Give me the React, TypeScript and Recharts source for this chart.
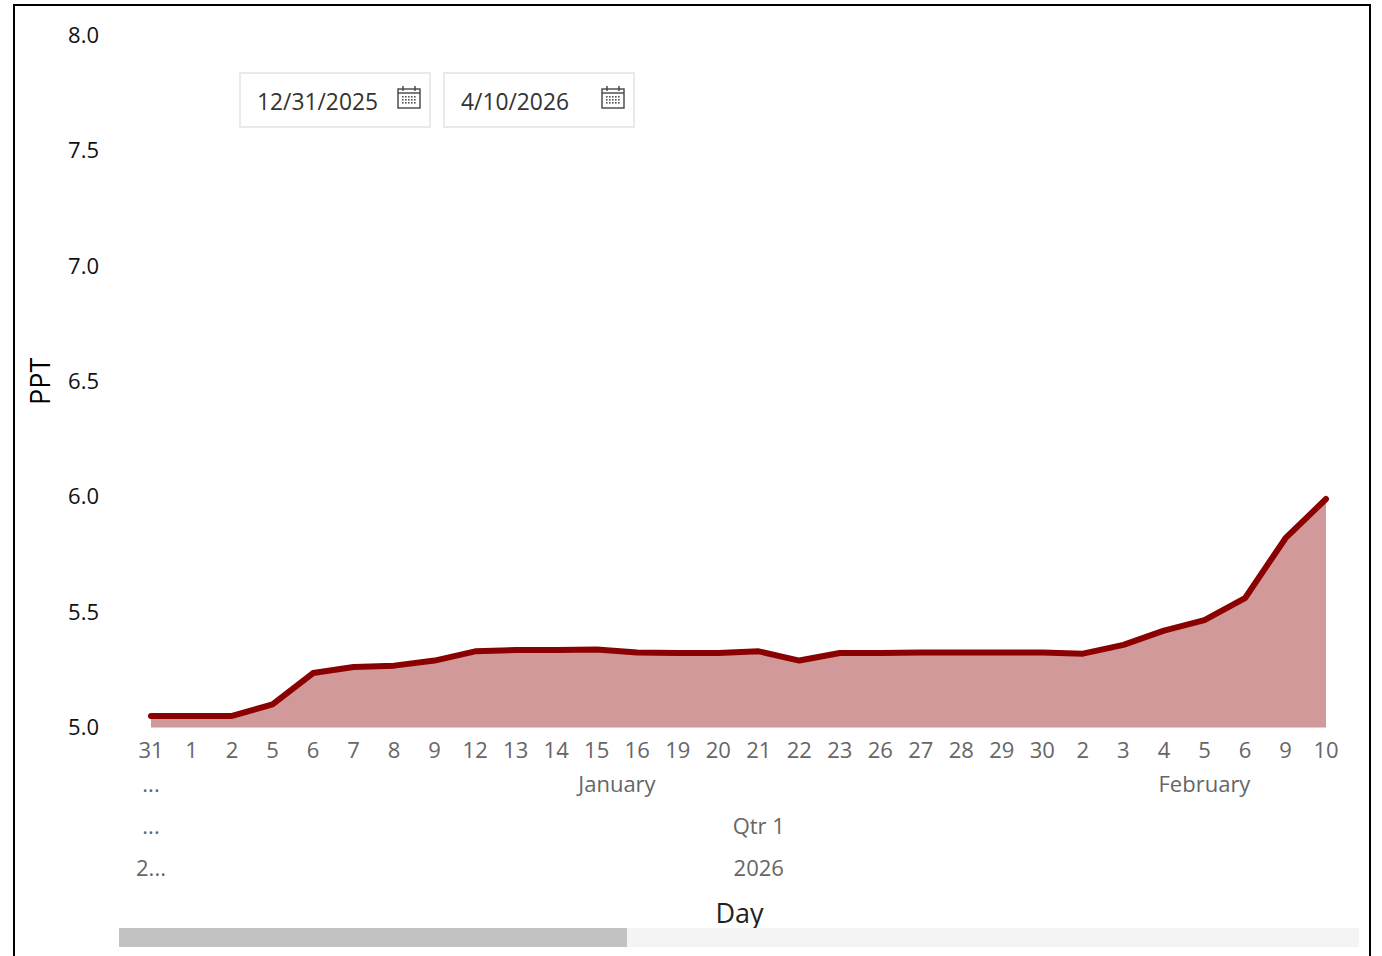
import React from 'react';
import { AreaChart, Area, XAxis, YAxis } from 'recharts';

const dayLabels = ['31', '1', '2', '5', '6', '7', '8', '9', '12', '13', '14', '15', '16', '19', '20', '21', '22', '23', '26', '27', '28', '29', '30', '2', '3', '4', '5', '6', '9', '10'];
const pptValues = [5.05, 5.05, 5.05, 5.1, 5.236, 5.262, 5.268, 5.29, 5.33, 5.336, 5.336, 5.338, 5.325, 5.323, 5.323, 5.33, 5.29, 5.323, 5.323, 5.325, 5.325, 5.325, 5.325, 5.32, 5.358, 5.42, 5.465, 5.56, 5.82, 5.99];
const pptTicks = [5, 5.5, 6, 6.5, 7, 7.5, 8];

const monthLabels = ['...', 'January', 'February'];
const monthSlots = [0, 11.5, 26];
const quarterLabels = ['...', 'Qtr 1'];
const quarterSlots = [0, 15];
const yearLabels = ['2...', '2026'];
const yearSlots = [0, 15];
const slicerDates = ['12/31/2025', '4/10/2026'];

const data = dayLabels.map((day, i) => ({ idx: i, day, ppt: pptValues[i] }));

const FONT = '"Open Sans", sans-serif';
const RED = '#8b0000';
const GREY = '#666666';
const tickStyle = { fill: GREY, fontSize: 22, fontFamily: FONT };

function CalendarIcon({ left }: { left: number }) {
  const dots = [];
  for (let r = 0; r < 3; r++) {
    for (let c = 0; c < 5; c++) {
      dots.push(<rect key={r + '-' + c} x={5 + c * 3} y={10 + r * 3} width={1.6} height={1.6} fill="#555" />);
    }
  }
  return (
    <svg width={24} height={24} style={{ position: 'absolute', left, top: 12 }}>
      <rect x={1} y={3} width={22} height={19} fill="none" stroke="#444" strokeWidth={1.4} />
      <line x1={1} y1={7} x2={23} y2={7} stroke="#444" strokeWidth={1.4} />
      <line x1={6} y1={0} x2={6} y2={5} stroke="#444" strokeWidth={1.4} />
      <line x1={18} y1={0} x2={18} y2={5} stroke="#444" strokeWidth={1.4} />
      {dots}
    </svg>
  );
}

function DateBox({ left, text, width }: { left: number; text: string; width: number }) {
  return (
    <div style={{ position: 'absolute', left, top: 72, width, height: 52, border: '2px solid #eaeaea', fontFamily: FONT, fontSize: 22.8, color: '#333' }}>
      <span style={{ position: 'absolute', left: 16, top: 12, whiteSpace: 'nowrap' }}>{text}</span>
      <CalendarIcon left={width - 32} />
    </div>
  );
}

export default function App() {
  return (
    <div style={{ position: 'absolute', left: 0, top: 0, width: 1382, height: 956, overflow: 'hidden', background: '#fff' }}>
      <div style={{ position: 'absolute', left: 13, top: 4, width: 1354, height: 1000, border: '2px solid #000' }} />
      <div style={{ position: 'absolute', left: 0, top: 0 }}>
        <AreaChart width={1382} height={956} data={data} margin={{ top: 35, right: 56, bottom: 24.5, left: 0 }}>
          <YAxis
            type="number"
            width={151}
            domain={[5, 8]}
            ticks={pptTicks}
            tickFormatter={(v: number) => v.toFixed(1)}
            axisLine={false}
            tickLine={false}
            tickSize={0}
            tickMargin={52}
            tick={{ fill: '#111', fontSize: 22, fontFamily: FONT }}
            label={{ value: 'PPT', angle: -90, position: 'insideLeft', offset: 40, style: { fill: '#000', fontSize: 27, fontWeight: 500, fontFamily: FONT, textAnchor: 'middle' } }}
          />
          <XAxis
            xAxisId="day"
            dataKey="idx"
            height={40}
            interval={0}
            axisLine={false}
            tickLine={false}
            tickSize={0}
            tickMargin={15}
            tick={tickStyle}
            tickFormatter={(i: number) => dayLabels[i]}
          />
          <XAxis
            xAxisId="month"
            type="number"
            domain={[0, 29]}
            ticks={monthSlots}
            height={42}
            interval={0}
            axisLine={false}
            tickLine={false}
            tickSize={0}
            tickMargin={9}
            tick={tickStyle}
            tickFormatter={(v: number) => monthLabels[monthSlots.indexOf(v)]}
          />
          <XAxis
            xAxisId="quarter"
            type="number"
            domain={[0, 29]}
            ticks={quarterSlots}
            height={42}
            interval={0}
            axisLine={false}
            tickLine={false}
            tickSize={0}
            tickMargin={9}
            tick={tickStyle}
            tickFormatter={(v: number) => quarterLabels[quarterSlots.indexOf(v)]}
          />
          <XAxis
            xAxisId="year"
            type="number"
            domain={[0, 29]}
            ticks={yearSlots}
            height={80}
            interval={0}
            axisLine={false}
            tickLine={false}
            tickSize={0}
            tickMargin={9}
            tick={tickStyle}
            tickFormatter={(v: number) => yearLabels[yearSlots.indexOf(v)]}
            label={{ value: 'Day', position: 'insideBottom', offset: 9, dx: 1, style: { fill: '#222', fontSize: 27, fontWeight: 500, fontFamily: FONT } }}
          />
          <Area
            xAxisId="day"
            type="linear"
            dataKey="ppt"
            baseValue={5}
            stroke={RED}
            strokeWidth={6}
            strokeLinecap="round"
            strokeLinejoin="round"
            fill={RED}
            fillOpacity={0.4}
            dot={false}
            activeDot={false}
            isAnimationActive={false}
          />
        </AreaChart>
      </div>
      <DateBox left={239} width={188} text={slicerDates[0]} />
      <DateBox left={443} width={188} text={slicerDates[1]} />
      <div style={{ position: 'absolute', left: 119, top: 928, width: 1240, height: 19, background: '#f4f4f4' }} />
      <div style={{ position: 'absolute', left: 119, top: 928, width: 508, height: 19, background: '#c2c2c2' }} />
    </div>
  );
}
